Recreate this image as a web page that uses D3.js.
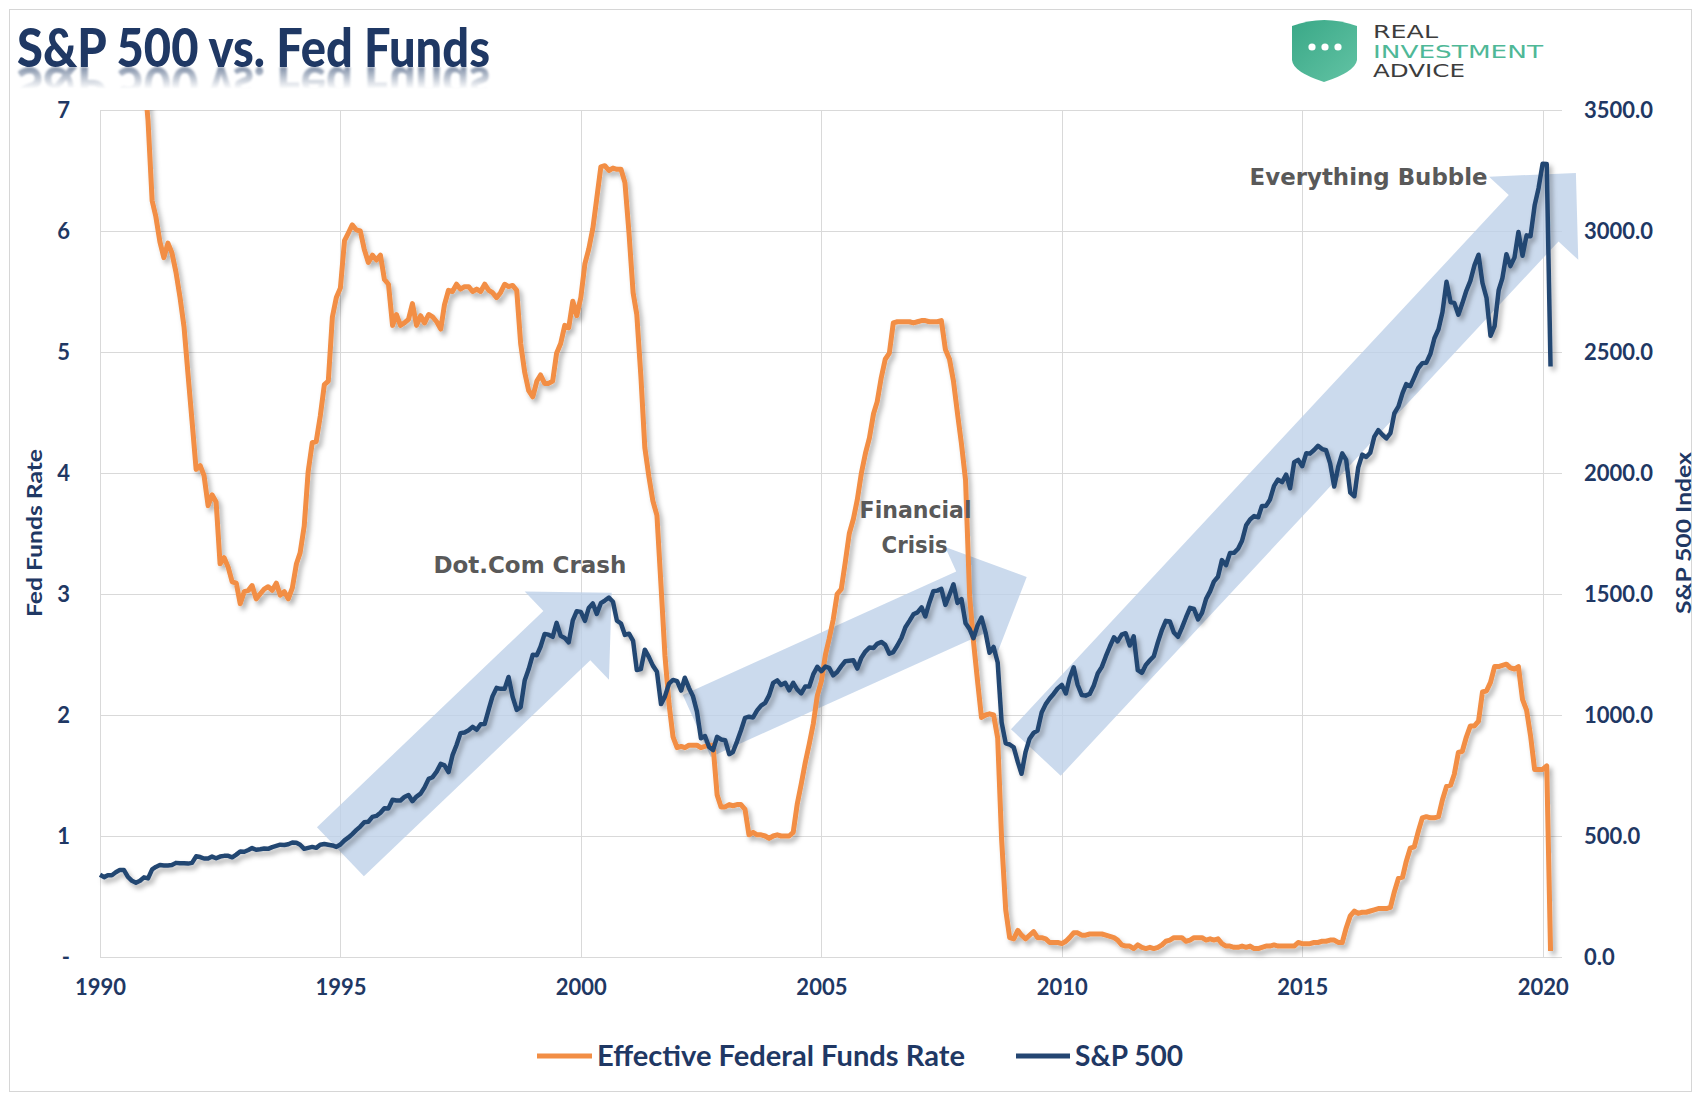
<!DOCTYPE html>
<html>
<head>
<meta charset="utf-8">
<script src="https://cdn.jsdelivr.net/npm/d3@7"></script>
<style>
  html, body { margin: 0; padding: 0; background: #fff; }
  svg { display: block; }
</style>
</head>
<body>
<svg id="chart" width="1694" height="1094" xmlns:xlink="http://www.w3.org/1999/xlink"></svg>
<script>
// monthly series, first value = Jan 1990
const startYear = 1990;

const fedFunds = [
  8.23, 8.24, 8.28, 8.26, 8.18, 8.29, 8.15, 8.13, 8.20, 8.11, 7.81, 7.31, // 1990
  6.91, 6.25, 6.12, 5.91, 5.78, 5.90, 5.82, 5.66, 5.45, 5.21, 4.81, 4.43,
  4.03, 4.06, 3.98, 3.73, 3.82, 3.76, 3.25, 3.30, 3.22, 3.10, 3.09, 2.92,
  3.02, 3.03, 3.07, 2.96, 3.00, 3.04, 3.06, 3.03, 3.09, 2.99, 3.02, 2.96,
  3.05, 3.25, 3.34, 3.56, 4.01, 4.25, 4.26, 4.47, 4.73, 4.76, 5.29, 5.45,
  5.53, 5.92, 5.98, 6.05, 6.01, 6.00, 5.85, 5.74, 5.80, 5.76, 5.80, 5.60, // 1995
  5.56, 5.22, 5.31, 5.22, 5.24, 5.27, 5.40, 5.22, 5.30, 5.24, 5.31, 5.29,
  5.25, 5.19, 5.39, 5.51, 5.50, 5.56, 5.52, 5.54, 5.54, 5.50, 5.52, 5.50,
  5.56, 5.51, 5.49, 5.45, 5.49, 5.56, 5.54, 5.55, 5.51, 5.07, 4.83, 4.68,
  4.63, 4.76, 4.81, 4.74, 4.74, 4.76, 4.99, 5.07, 5.22, 5.20, 5.42, 5.30,
  5.45, 5.73, 5.85, 6.02, 6.27, 6.53, 6.54, 6.50, 6.52, 6.51, 6.51, 6.40, // 2000
  5.98, 5.49, 5.31, 4.80, 4.21, 3.97, 3.77, 3.65, 3.07, 2.49, 2.09, 1.82,
  1.73, 1.74, 1.73, 1.75, 1.75, 1.75, 1.73, 1.74, 1.75, 1.75, 1.34, 1.24,
  1.24, 1.26, 1.25, 1.26, 1.26, 1.22, 1.01, 1.03, 1.01, 1.01, 1.00, 0.98,
  1.00, 1.01, 1.00, 1.00, 1.00, 1.03, 1.26, 1.43, 1.61, 1.76, 1.93, 2.16,
  2.28, 2.50, 2.63, 2.79, 3.00, 3.04, 3.26, 3.50, 3.62, 3.78, 4.00, 4.16, // 2005
  4.29, 4.49, 4.59, 4.79, 4.94, 4.99, 5.24, 5.25, 5.25, 5.25, 5.25, 5.24,
  5.25, 5.26, 5.26, 5.25, 5.25, 5.25, 5.26, 5.02, 4.94, 4.76, 4.49, 4.24,
  3.94, 2.98, 2.61, 2.28, 1.98, 2.00, 2.01, 2.00, 1.81, 0.97, 0.39, 0.16,
  0.15, 0.22, 0.18, 0.15, 0.18, 0.21, 0.16, 0.16, 0.15, 0.12, 0.12, 0.12,
  0.11, 0.13, 0.16, 0.20, 0.20, 0.18, 0.18, 0.19, 0.19, 0.19, 0.19, 0.18, // 2010
  0.17, 0.16, 0.14, 0.10, 0.09, 0.09, 0.07, 0.10, 0.08, 0.07, 0.08, 0.07,
  0.08, 0.10, 0.13, 0.14, 0.16, 0.16, 0.16, 0.13, 0.14, 0.16, 0.16, 0.16,
  0.14, 0.15, 0.14, 0.15, 0.11, 0.09, 0.09, 0.08, 0.08, 0.09, 0.08, 0.09,
  0.07, 0.07, 0.08, 0.09, 0.09, 0.10, 0.09, 0.09, 0.09, 0.09, 0.09, 0.12,
  0.11, 0.11, 0.11, 0.12, 0.12, 0.13, 0.13, 0.14, 0.14, 0.12, 0.12, 0.24, // 2015
  0.34, 0.38, 0.36, 0.37, 0.37, 0.38, 0.39, 0.40, 0.40, 0.40, 0.41, 0.54,
  0.65, 0.66, 0.79, 0.90, 0.91, 1.04, 1.15, 1.16, 1.15, 1.15, 1.16, 1.30,
  1.41, 1.42, 1.51, 1.69, 1.70, 1.82, 1.91, 1.91, 1.95, 2.19, 2.20, 2.27,
  2.40, 2.40, 2.41, 2.42, 2.39, 2.38, 2.40, 2.13, 2.04, 1.83, 1.55, 1.55,
  1.55, 1.58, 0.05                                                        // 2020
];

const sp500 = [
  340, 330, 338, 338, 350, 360, 360, 331, 315, 307, 315, 329, // 1990
  325, 362, 372, 380, 378, 378, 380, 389, 387, 387, 386, 389,
  416, 413, 407, 407, 415, 408, 415, 418, 418, 412, 423, 436,
  435, 442, 450, 443, 445, 448, 447, 454, 459, 464, 463, 466,
  473, 472, 464, 447, 451, 455, 451, 464, 467, 464, 461, 455,
  465, 482, 493, 508, 524, 539, 557, 559, 579, 583, 596, 615, // 1995
  614, 650, 647, 647, 661, 669, 644, 663, 675, 701, 736, 743,
  766, 798, 792, 764, 833, 876, 925, 928, 937, 951, 939, 962,
  963, 1024, 1077, 1112, 1108, 1108, 1157, 1075, 1021, 1032, 1144, 1190,
  1249, 1247, 1282, 1335, 1332, 1323, 1381, 1327, 1318, 1300, 1391, 1429,
  1426, 1389, 1442, 1461, 1418, 1462, 1473, 1485, 1468, 1390, 1378, 1331, // 2000
  1336, 1306, 1186, 1190, 1270, 1239, 1204, 1179, 1045, 1077, 1130, 1145,
  1140, 1101, 1154, 1112, 1079, 1014, 904, 913, 868, 855, 910, 899,
  896, 838, 847, 890, 936, 988, 993, 990, 1019, 1039, 1050, 1081,
  1133, 1143, 1124, 1133, 1102, 1133, 1106, 1089, 1118, 1118, 1169, 1199,
  1181, 1200, 1195, 1164, 1178, 1202, 1222, 1224, 1226, 1192, 1237, 1262, // 2005
  1279, 1277, 1294, 1302, 1290, 1253, 1260, 1287, 1318, 1363, 1389, 1416,
  1424, 1445, 1407, 1464, 1511, 1514, 1521, 1455, 1497, 1540, 1463, 1479,
  1379, 1355, 1317, 1370, 1403, 1341, 1257, 1281, 1217, 969, 883, 878,
  866, 805, 757, 848, 902, 926, 936, 1010, 1045, 1068, 1088, 1110,
  1124, 1089, 1152, 1197, 1125, 1083, 1080, 1087, 1122, 1172, 1199, 1242, // 2010
  1283, 1321, 1304, 1332, 1338, 1287, 1325, 1185, 1174, 1207, 1226, 1243,
  1301, 1352, 1389, 1386, 1341, 1323, 1360, 1403, 1443, 1438, 1395, 1422,
  1480, 1512, 1551, 1571, 1640, 1619, 1669, 1670, 1687, 1720, 1784, 1808,
  1822, 1817, 1864, 1864, 1890, 1947, 1973, 1962, 1993, 1937, 2045, 2054,
  2028, 2082, 2080, 2095, 2112, 2099, 2094, 2040, 1944, 2025, 2081, 2054, // 2015
  1919, 1904, 2022, 2076, 2066, 2084, 2149, 2177, 2158, 2143, 2165, 2247,
  2275, 2330, 2367, 2359, 2395, 2434, 2454, 2456, 2493, 2557, 2594, 2664,
  2790, 2705, 2703, 2654, 2701, 2754, 2794, 2858, 2902, 2785, 2723, 2567,
  2607, 2755, 2804, 2904, 2855, 2890, 2996, 2898, 2982, 2978, 3105, 3177,
  3278, 3277, 2440                                                         // 2020
];

const yearTicks = [1990, 1995, 2000, 2005, 2010, 2015, 2020];
const rateTicks = [0, 1, 2, 3, 4, 5, 6, 7];
const indexTicks = [0, 500, 1000, 1500, 2000, 2500, 3000, 3500];

// annotation arrows, [year, fed funds units]
const arrowFrom = [[1995.0, 0.87], [2002.41, 1.91], [2009.46, 1.69]];
const arrowTo   = [[2000.64, 3.01], [2009.27, 3.14], [2020.69, 6.48]];

const noteText = ["Dot.Com Crash", "Financial", "Crisis", "Everything Bubble"];
const notePos  = [[1998.94, 3.24], [2006.96, 3.70], [2006.94, 3.41], [2016.38, 6.45]];
const noteLen  = [193, 112, 66, 238];

const legendNames = ["Effective Federal Funds Rate", "S&P 500"];

const orange = "#f28e45", navy = "#244672", ink = "#1f3864";

const svg = d3.select("#chart");
const defs = svg.append("defs");

const plotL = 100, plotR = 1562, plotT = 110, plotB = 957;

const yearDate = v => {
  const y0 = Math.floor(v);
  const a = new Date(y0, 0, 1), b = new Date(y0 + 1, 0, 1);
  return new Date(+a + (v - y0) * (b - a));
};

const x = d3.scaleTime().domain([new Date(1990, 0, 1), new Date(2020, 4, 27)]).range([plotL, plotR]);
const yL = d3.scaleLinear().domain([0, 7]).range([plotB, plotT]);
const yR = d3.scaleLinear().domain([0, 3500]).range([plotB, plotT]);

// defs
const sh = defs.append("filter").attr("id", "shadow")
  .attr("x", "-5%").attr("y", "-5%").attr("width", "110%").attr("height", "115%");
sh.append("feDropShadow").attr("dx", 3).attr("dy", 4).attr("stdDeviation", 2.5)
  .attr("flood-color", "#000").attr("flood-opacity", 0.3);

defs.append("clipPath").attr("id", "plotClip")
  .append("rect").attr("x", plotL - 5).attr("y", plotT).attr("width", plotR - plotL + 10).attr("height", plotB - plotT + 8);

const fade = defs.append("linearGradient").attr("id", "fade").attr("x1", 0).attr("y1", 0).attr("x2", 0).attr("y2", 1);
fade.append("stop").attr("offset", 0).attr("stop-color", "#fff").attr("stop-opacity", 0.55);
fade.append("stop").attr("offset", 1).attr("stop-color", "#fff").attr("stop-opacity", 0);
defs.append("mask").attr("id", "reflMask").attr("maskUnits", "userSpaceOnUse")
  .append("rect").attr("x", 0).attr("y", 67).attr("width", 600).attr("height", 22).attr("fill", "url(#fade)");
defs.append("filter").attr("id", "blur").append("feGaussianBlur").attr("stdDeviation", 1.2);

const shield = defs.append("linearGradient").attr("id", "shield").attr("x1", 0).attr("y1", 0).attr("x2", 1).attr("y2", 1);
shield.append("stop").attr("offset", 0).attr("stop-color", "#3aa887");
shield.append("stop").attr("offset", 1).attr("stop-color", "#62c3a4");

// frame
svg.append("rect").attr("x", 9.5).attr("y", 9.5).attr("width", 1682).attr("height", 1082)
  .attr("fill", "#fff").attr("stroke", "#d6d6d6");

// title, with a faded mirror image drawn through <use>
svg.append("text").attr("id", "titleText").attr("x", 17).attr("y", 67)
  .attr("font-family", "Lato, sans-serif").attr("font-weight", 900).attr("font-size", 54)
  .attr("textLength", 473).attr("lengthAdjust", "spacingAndGlyphs")
  .attr("fill", ink).text("S&P 500 vs. Fed Funds");
svg.append("g").attr("mask", "url(#reflMask)")
  .append("use").attr("href", "#titleText")
  .attr("transform", "translate(0,134) scale(1,-1)").attr("filter", "url(#blur)");

// logo
const logo = svg.append("g");
logo.append("path")
  .attr("d", "M1292,26 Q1324,14 1357,26 L1357,60 Q1355,72 1324,82 Q1293,72 1292,60 Z")
  .attr("fill", "url(#shield)");
[1312, 1325, 1338].forEach(cx => logo.append("circle").attr("cx", cx).attr("cy", 47).attr("r", 3.6).attr("fill", "#fff"));
[["REAL", 32, 65, "#3d3d3d"], ["INVESTMENT", 51.5, 170, "#4fb897"], ["ADVICE", 70.5, 92, "#3d3d3d"]]
  .forEach(([t, cy, w, c]) => logo.append("text").attr("x", 1373).attr("y", cy).attr("dy", "0.36em")
    .attr("font-family", "'DejaVu Sans', sans-serif").attr("font-size", 18).attr("fill", c)
    .attr("textLength", w).attr("lengthAdjust", "spacingAndGlyphs").text(t));

// gridlines
const grid = svg.append("g").attr("stroke", "#d9d9d9").attr("stroke-width", 1);
grid.selectAll(".h").data(rateTicks).join("line").attr("class", "h")
  .attr("x1", plotL).attr("x2", plotR)
  .attr("y1", d => Math.round(yL(d)) + 0.5).attr("y2", d => Math.round(yL(d)) + 0.5);
grid.selectAll(".v").data(yearTicks).join("line").attr("class", "v")
  .attr("y1", plotT).attr("y2", plotB)
  .attr("x1", d => Math.round(x(new Date(d, 0, 1))) + 0.5).attr("x2", d => Math.round(x(new Date(d, 0, 1))) + 0.5);

// arrows
const arrowG = svg.append("g");
arrowFrom.forEach((f, i) => {
  const p0 = [x(yearDate(f[0])), yL(f[1])];
  const p1 = [x(yearDate(arrowTo[i][0])), yL(arrowTo[i][1])];
  const len = Math.hypot(p1[0] - p0[0], p1[1] - p0[1]);
  const u = [(p1[0] - p0[0]) / len, (p1[1] - p0[1]) / len];
  const n = [-u[1], u[0]];
  const sw = 34, hw = 61, hl = 62;
  const b = [p1[0] - u[0] * hl, p1[1] - u[1] * hl];
  const off = (p, s) => [p[0] + n[0] * s, p[1] + n[1] * s];
  const pts = [off(p0, sw), off(b, sw), off(b, hw), p1, off(b, -hw), off(b, -sw), off(p0, -sw)];
  arrowG.append("path").attr("d", "M" + pts.map(p => p.join(",")).join("L") + "Z")
    .attr("fill", "#bccfe8").attr("opacity", 0.78);
});

// series
const dates = d3.range(fedFunds.length).map(i => new Date(startYear, i, 1));
const plot = svg.append("g").attr("clip-path", "url(#plotClip)").append("g").attr("filter", "url(#shadow)");
plot.append("path").datum(fedFunds)
  .attr("fill", "none").attr("stroke", orange).attr("stroke-width", 5).attr("stroke-linejoin", "round")
  .attr("d", d3.line().x((d, i) => x(dates[i])).y(d => yL(d)));
plot.append("path").datum(sp500)
  .attr("fill", "none").attr("stroke", navy).attr("stroke-width", 4.5).attr("stroke-linejoin", "round")
  .attr("d", d3.line().x((d, i) => x(dates[i])).y(d => yR(d)));

// axes
const tickFont = g => g.selectAll("text")
  .attr("font-family", "Lato, sans-serif").attr("font-weight", 700).attr("font-size", 22).attr("fill", ink);

svg.append("g").attr("transform", `translate(${plotL},0)`)
  .call(d3.axisLeft(yL).tickValues(rateTicks).tickSize(0).tickPadding(30).tickFormat(d => d === 0 ? "-" : d))
  .call(g => g.select(".domain").remove()).call(tickFont);

svg.append("g").attr("transform", `translate(${plotR},0)`)
  .call(d3.axisRight(yR).tickValues(indexTicks).tickSize(0).tickPadding(22).tickFormat(d3.format(".1f")))
  .call(g => g.select(".domain").remove()).call(tickFont);

svg.append("g").attr("transform", `translate(0,${plotB})`)
  .call(d3.axisBottom(x).tickValues(yearTicks.map(y => new Date(y, 0, 1))).tickSize(0).tickPadding(22).tickFormat(d3.timeFormat("%Y")))
  .call(g => g.select(".domain").remove()).call(tickFont);

// axis titles
svg.append("text").attr("transform", "translate(42,533) rotate(-90)").attr("text-anchor", "middle")
  .attr("font-family", "Lato, sans-serif").attr("font-weight", 700).attr("font-size", 21).attr("fill", ink)
  .attr("textLength", 168).attr("lengthAdjust", "spacingAndGlyphs").text("Fed Funds Rate");
svg.append("text").attr("transform", "translate(1691,533) rotate(-90)").attr("text-anchor", "middle")
  .attr("font-family", "Lato, sans-serif").attr("font-weight", 700).attr("font-size", 21).attr("fill", ink)
  .attr("textLength", 162).attr("lengthAdjust", "spacingAndGlyphs").text("S&P 500 Index");

// annotations
svg.append("g").selectAll("text").data(noteText).join("text")
  .attr("x", (d, i) => x(yearDate(notePos[i][0]))).attr("y", (d, i) => yL(notePos[i][1]))
  .attr("dy", "0.36em").attr("text-anchor", "middle")
  .attr("font-family", "'DejaVu Sans', sans-serif").attr("font-weight", 700).attr("font-size", 23)
  .attr("fill", "#595959").attr("textLength", (d, i) => noteLen[i]).attr("lengthAdjust", "spacingAndGlyphs")
  .text(d => d);

// legend
const legend = svg.append("g");
[[537, 592, orange, 5, 597, 368], [1016, 1070, navy, 5, 1075, 108]].forEach(([a, b, c, w, tx, tl], i) => {
  legend.append("line").attr("x1", a).attr("x2", b).attr("y1", 1056).attr("y2", 1056)
    .attr("stroke", c).attr("stroke-width", w);
  legend.append("text").attr("x", tx).attr("y", 1056).attr("dy", "0.36em")
    .attr("font-family", "Lato, sans-serif").attr("font-weight", 700).attr("font-size", 28).attr("fill", ink)
    .attr("textLength", tl).attr("lengthAdjust", "spacingAndGlyphs").text(legendNames[i]);
});
</script>
</body>
</html>
